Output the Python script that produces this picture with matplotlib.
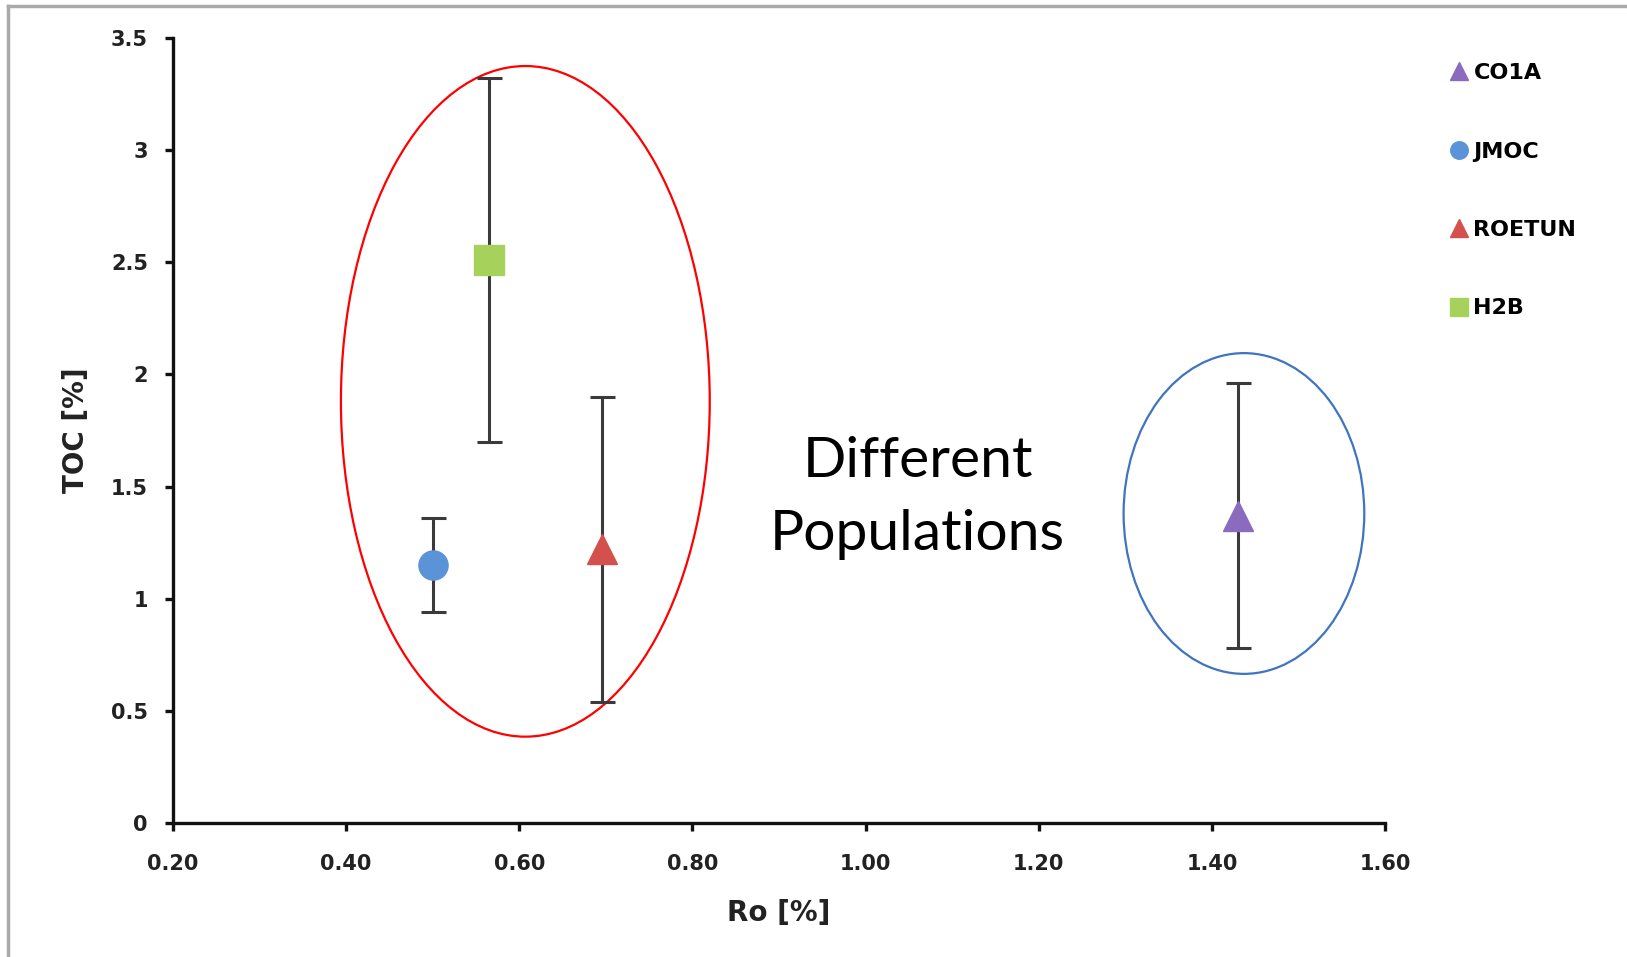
import matplotlib
matplotlib.use("Agg")
import matplotlib.pyplot as plt
from matplotlib.patches import Ellipse
from matplotlib.lines import Line2D

## sample data
names = ["CO1A", "JMOC", "ROETUN", "H2B"]
ro = [1.43, 0.50, 0.695, 0.565]
toc = [1.37, 1.15, 1.22, 2.51]
toc_err = [0.59, 0.21, 0.68, 0.81]
markers = ["^", "o", "^", "s"]
colors = ["#8a6bbd", "#5b93d8", "#d4504d", "#a6d25c"]
msizes = [21, 21, 21, 22]

xticks = [0.20, 0.40, 0.60, 0.80, 1.00, 1.20, 1.40, 1.60]
yticks = [0, 0.5, 1, 1.5, 2, 2.5, 3, 3.5]

fig = plt.figure(figsize=(16.27, 9.57), dpi=100)
ax = fig.add_axes([0.1063, 0.1400, 0.7450, 0.8203])

## error bars first, then markers on top
for i in range(len(names)):
    ax.errorbar(ro[i], toc[i], yerr=toc_err[i], fmt="none", ecolor="#3a3a3a",
                elinewidth=2.2, capsize=9, capthick=2.2, zorder=2)
    ax.plot(ro[i], toc[i], linestyle="none", marker=markers[i], markersize=msizes[i],
            color=colors[i], markeredgecolor=colors[i], label=names[i], zorder=3)

## the two population circles
ax.add_patch(Ellipse((0.607, 1.88), 0.426, 2.99, fill=False, edgecolor="#ff0000", linewidth=1.6, zorder=1))
ax.add_patch(Ellipse((1.437, 1.38), 0.278, 1.43, fill=False, edgecolor="#3f74c0", linewidth=1.6, zorder=1))

ax.text(1.06, 1.45, "Different\nPopulations", fontsize=41, family="Lato",
        ha="center", va="center", linespacing=1.55)

ax.set_xlim(0.2, 1.6)
ax.set_ylim(0, 3.5)
ax.set_xticks(xticks)
ax.set_xticklabels(["%.2f" % v for v in xticks])
ax.set_yticks(yticks)
ax.set_yticklabels([("%g" % v) for v in yticks])

for s in ["top", "right"]:
    ax.spines[s].set_visible(False)
for s in ["left", "bottom"]:
    ax.spines[s].set_linewidth(2.4)
    ax.spines[s].set_color("#111111")
ax.tick_params(length=6, width=2.4, color="#111111", labelsize=15, pad=12)
ax.tick_params(axis="x", pad=16)
for lab in ax.get_xticklabels() + ax.get_yticklabels():
    lab.set_fontweight("bold")
    lab.set_color("#222222")

ax.set_xlabel("Ro [%]", fontsize=20, fontweight="bold", color="#222222", va="center")
ax.set_ylabel("TOC [%]", fontsize=20, fontweight="bold", color="#222222", va="center")
ax.xaxis.set_label_coords(0.5, -0.114)
ax.yaxis.set_label_coords(-0.080, 0.5)

leg = fig.legend(loc="upper left", bbox_to_anchor=(0.879, 0.955), frameon=False,
                 labelspacing=2.63, handlelength=0.8, handletextpad=0.25,
                 markerscale=0.6, prop={"weight": "bold", "size": 16})

## grey frame on the left and top of the picture
fig.add_artist(Line2D([0.005, 0.005], [0, 0.994], color="#aaaaaa", linewidth=2.5))
fig.add_artist(Line2D([0.005, 1], [0.994, 0.994], color="#aaaaaa", linewidth=2.5))

fig.savefig("out.png", dpi=100, facecolor="white")
